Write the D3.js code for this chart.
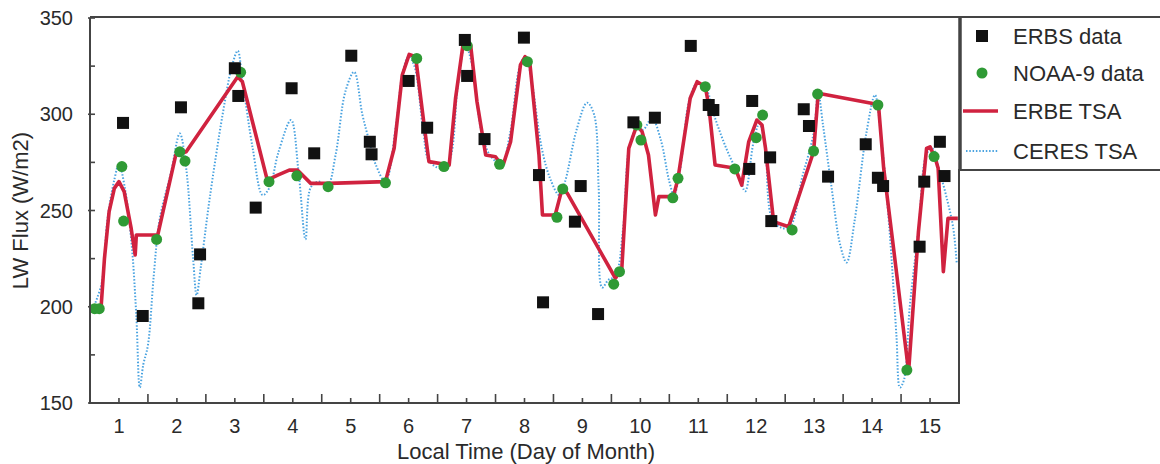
<!DOCTYPE html>
<meta charset="utf-8">
<head>
<title>LW Flux time series</title>
<script src="https://cdn.jsdelivr.net/npm/d3@7"></script>
<style>
body { margin: 0; background: #fff; }
text { font-family: "Liberation Sans", Arial, sans-serif; fill: #2a2a2a; }
.frame { stroke: #444; stroke-width: 2; fill: none; }
</style>
</head>
<body>
<script>
// ERBS data points [day, W/m2]
const erbs = [
  [1.07, 295.5], [1.41, 195.2], [2.07, 303.6], [2.40, 227.2], [2.37, 201.8],
  [3.00, 323.9], [3.06, 309.5], [3.36, 251.5], [3.98, 313.5], [4.37, 279.7],
  [5.01, 330.4], [5.33, 285.7], [5.36, 279.2], [6.00, 317.3], [6.32, 293.0],
  [6.97, 338.6], [7.01, 319.9], [7.31, 287.1], [7.99, 339.8], [8.25, 268.4],
  [8.32, 202.3], [8.97, 262.7], [8.87, 244.2], [9.27, 196.2], [9.88, 295.8],
  [10.25, 298.2], [10.87, 335.5], [11.18, 304.8], [11.26, 302.2], [11.93, 306.9],
  [11.88, 271.6], [12.24, 277.6], [12.26, 244.5], [12.82, 302.6], [12.91, 293.9],
  [13.24, 267.6], [13.89, 284.4], [14.10, 267.0], [14.19, 262.7], [14.82, 231.2],
  [14.90, 265.0], [15.17, 285.7], [15.25, 267.9]
];

// NOAA-9 data points
const noaa = [
  [0.58, 199], [0.66, 199], [1.05, 272.8], [1.08, 244.5], [1.65, 235],
  [2.05, 280.5], [2.14, 275.7], [3.10, 321.8], [3.59, 265], [4.07, 268],
  [4.61, 262.4], [5.60, 264.4], [6.14, 329], [6.61, 272.8], [7.01, 335.6],
  [7.57, 274], [8.05, 327.3], [8.56, 246.5], [8.66, 261.2], [9.54, 211.7],
  [9.64, 218.2], [9.94, 294.4], [10.01, 286.6], [10.56, 256.6], [10.65, 266.7],
  [11.12, 314.3], [11.63, 271.6], [12.11, 299.6], [12.00, 287.8], [12.62, 239.9],
  [12.99, 280.9], [13.06, 310.5], [14.10, 304.8], [14.60, 167.1], [15.07, 278]
];

// ERBE TSA curve
const erbeTsa = [
  [0.55, 199.2], [0.69, 199.2], [0.75, 225.2], [0.83, 249.4], [0.92, 261.5],
  [1.00, 265], [1.09, 259.8], [1.21, 240.8], [1.28, 226.9], [1.30, 237.3],
  [1.67, 237.3], [1.98, 278.8], [2.16, 280.5], [3.05, 319.5], [3.13, 316.9],
  [3.56, 265.8], [3.74, 268.4], [3.94, 271], [4.08, 271], [4.31, 264.1],
  [4.63, 264.1], [5.60, 265], [5.75, 282.3], [5.89, 320.4], [6.01, 331.1],
  [6.12, 329.9], [6.26, 296.1], [6.35, 275.4], [6.70, 273.6], [6.81, 308.3],
  [6.95, 338.6], [7.07, 336], [7.18, 306.5], [7.33, 278.8], [7.50, 277.9],
  [7.56, 275.4], [7.64, 274.5], [7.76, 285.7], [7.93, 325.6], [8.01, 329.9],
  [8.09, 327.3], [8.25, 278.8], [8.31, 247.7], [8.53, 247.7], [8.65, 261.5],
  [8.74, 258.9], [9.57, 214.8], [9.68, 220], [9.80, 282.3], [9.94, 294.4],
  [10.03, 290.9], [10.14, 278.8], [10.26, 247.7], [10.32, 257.2], [10.57, 257.2],
  [10.65, 266.7], [10.86, 308.3], [10.98, 316.9], [11.12, 314.3], [11.18, 304.8],
  [11.29, 273.6], [11.64, 271.9], [11.75, 263.2], [11.87, 285.7], [12.01, 297],
  [12.10, 294.4], [12.16, 282.3], [12.30, 244.2], [12.56, 241.6], [12.99, 280.5],
  [13.07, 310.9], [14.08, 305.2], [14.11, 304.8], [14.20, 271.9], [14.37, 230.4],
  [14.63, 166.3], [14.80, 239], [14.94, 282.3], [15.00, 283.1], [15.09, 277.1],
  [15.14, 271.9], [15.23, 218.2], [15.31, 245.9], [15.48, 245.9]
];

// CERES TSA curve
const ceresTsa = [
  [0.55, 199], [0.70, 212], [0.80, 245], [0.92, 266], [1.00, 274], [1.10, 262],
  [1.22, 232], [1.30, 195], [1.36, 158], [1.42, 170], [1.50, 180], [1.60, 216],
  [1.70, 245], [1.90, 270], [2.05, 290], [2.16, 272], [2.28, 225], [2.34, 206],
  [2.41, 220], [2.56, 255], [2.79, 300], [2.95, 325], [3.05, 333], [3.13, 318],
  [3.31, 282], [3.48, 258], [3.60, 262], [3.75, 280], [3.97, 297], [4.10, 270],
  [4.22, 235], [4.31, 262], [4.45, 265], [4.60, 263], [4.74, 279], [4.91, 312],
  [5.06, 322], [5.20, 300], [5.32, 286], [5.43, 274], [5.60, 265], [5.78, 294],
  [5.90, 322], [6.00, 330], [6.10, 325], [6.25, 292], [6.35, 276], [6.55, 272],
  [6.70, 276], [6.85, 315], [6.98, 336], [7.10, 325], [7.25, 292], [7.40, 279],
  [7.60, 274], [7.75, 290], [7.92, 325], [8.02, 330], [8.12, 318], [8.30, 282],
  [8.45, 266], [8.60, 258], [8.70, 265], [8.90, 292], [9.08, 306], [9.20, 300],
  [9.28, 262], [9.34, 210], [9.45, 214], [9.57, 216], [9.70, 240], [9.82, 285],
  [9.95, 293], [10.05, 292], [10.20, 298], [10.35, 287], [10.50, 265], [10.58, 258],
  [10.68, 270], [10.85, 308], [10.98, 316], [11.12, 314], [11.30, 297], [11.50, 281],
  [11.70, 268], [11.81, 260], [11.95, 285], [12.05, 295], [12.15, 285], [12.30, 244],
  [12.56, 241], [12.80, 268], [12.99, 290], [13.07, 311], [13.15, 295], [13.30, 262],
  [13.45, 232], [13.56, 223], [13.70, 245], [13.90, 290], [14.05, 310], [14.15, 290],
  [14.30, 240], [14.42, 185], [14.48, 158], [14.55, 162], [14.65, 200], [14.80, 240],
  [14.95, 280], [15.05, 282], [15.15, 272], [15.30, 255], [15.40, 241], [15.46, 223]
];

const dayTicks = d3.range(1, 16);
const fluxTicks = [150, 200, 250, 300, 350];
const legendItems = ["ERBS data", "NOAA-9 data", "ERBE TSA", "CERES TSA"];

const W = 1160, H = 464;
const margin = {top: 18, right: 201, bottom: 61, left: 90};

const svg = d3.select("body").append("svg")
    .attr("width", W)
    .attr("height", H);

const x = d3.scaleLinear().domain([0.5, 15.5]).range([margin.left, W - margin.right]);
const y = d3.scaleLinear().domain([150, 350]).range([H - margin.bottom, margin.top]);

const x0 = x.range()[0], x1 = x.range()[1];
const y0 = y.range()[0], y1 = y.range()[1];

// tick marks (inside)
svg.append("g")
    .selectAll("line")
    .data(d3.range(0.5, 15.51, 0.5))
    .join("line")
    .attr("x1", d => x(d)).attr("x2", d => x(d))
    .attr("y1", y0)
    .attr("y2", d => y0 - (d % 1 === 0 ? 5 : 9))
    .attr("stroke", "#444").attr("stroke-width", 1.6);

svg.append("g")
    .selectAll("line")
    .data(d3.range(150, 351, 25))
    .join("line")
    .attr("x1", d => x0 - (d % 50 === 0 ? 2 : 0))
    .attr("x2", x0 + 5)
    .attr("y1", d => y(d)).attr("y2", d => y(d))
    .attr("stroke", "#444").attr("stroke-width", 1.6);

// tick labels
svg.append("g")
    .selectAll("text")
    .data(dayTicks)
    .join("text")
    .attr("x", d => x(d))
    .attr("y", y0 + 30)
    .attr("text-anchor", "middle")
    .style("font-size", "20px")
    .text(d => d);

svg.append("g")
    .selectAll("text")
    .data(fluxTicks)
    .join("text")
    .attr("x", x0 - 17)
    .attr("y", d => y(d) + 7)
    .attr("text-anchor", "end")
    .style("font-size", "20px")
    .text(d => d);

// axis titles
svg.append("text")
    .attr("x", 526)
    .attr("y", 459)
    .attr("text-anchor", "middle")
    .style("font-size", "22px")
    .text("Local Time (Day of Month)");

svg.append("text")
    .attr("transform", `translate(28,${(y0 + y1) / 2}) rotate(-90)`)
    .attr("text-anchor", "middle")
    .style("font-size", "22px")
    .text("LW Flux (W/m2)");

// series
const line = d3.line().x(d => x(d[0])).y(d => y(d[1]));

svg.append("path")
    .datum(ceresTsa)
    .attr("d", line.curve(d3.curveCatmullRom.alpha(0.5)))
    .attr("fill", "none")
    .attr("stroke", "#4aa3e0")
    .attr("stroke-width", 2)
    .attr("stroke-dasharray", "1.5,1.8");

svg.append("path")
    .datum(erbeTsa)
    .attr("d", line.curve(d3.curveLinear))
    .attr("fill", "none")
    .attr("stroke", "#d0223f")
    .attr("stroke-width", 3.6)
    .attr("stroke-linejoin", "round");

svg.append("g")
    .selectAll("circle")
    .data(noaa)
    .join("circle")
    .attr("cx", d => x(d[0]))
    .attr("cy", d => y(d[1]))
    .attr("r", 5.5)
    .attr("fill", "#2f9a35");

svg.append("g")
    .selectAll("rect")
    .data(erbs)
    .join("rect")
    .attr("x", d => x(d[0]) - 6)
    .attr("y", d => y(d[1]) - 6)
    .attr("width", 12)
    .attr("height", 12)
    .attr("fill", "#111");

// frame
const legTop = y1 - 1, legBottom = 170, legRight = W;
svg.append("path")
    .attr("class", "frame")
    .attr("d", `M${x0},${y1} V${y0} H${x1} V${legBottom} H${legRight}`);
svg.append("line")
    .attr("class", "frame")
    .attr("x1", x0).attr("x2", legRight)
    .attr("y1", legTop).attr("y2", legTop);
svg.append("line")
    .attr("class", "frame")
    .style("stroke-width", 3.5)
    .attr("x1", x1 + 1).attr("x2", x1 + 1)
    .attr("y1", legTop).attr("y2", legBottom);

// legend
const legend = svg.append("g");
const rowY = [36, 73, 111, 151];

legend.append("rect")
    .attr("x", 976).attr("y", rowY[0] - 6)
    .attr("width", 12).attr("height", 12)
    .attr("fill", "#111");
legend.append("circle")
    .attr("cx", 982).attr("cy", rowY[1])
    .attr("r", 5.5).attr("fill", "#2f9a35");
legend.append("line")
    .attr("x1", 963).attr("x2", 998)
    .attr("y1", rowY[2]).attr("y2", rowY[2])
    .attr("stroke", "#d0223f").attr("stroke-width", 3.6);
legend.append("line")
    .attr("x1", 966).attr("x2", 998)
    .attr("y1", rowY[3]).attr("y2", rowY[3])
    .attr("stroke", "#4aa3e0").attr("stroke-width", 2)
    .attr("stroke-dasharray", "1.5,1.8");

legend.selectAll("text")
    .data(legendItems)
    .join("text")
    .attr("x", 1013)
    .attr("y", (d, i) => rowY[i] + 8)
    .style("font-size", "22px")
    .text(d => d);
</script>
</body>
</html>
